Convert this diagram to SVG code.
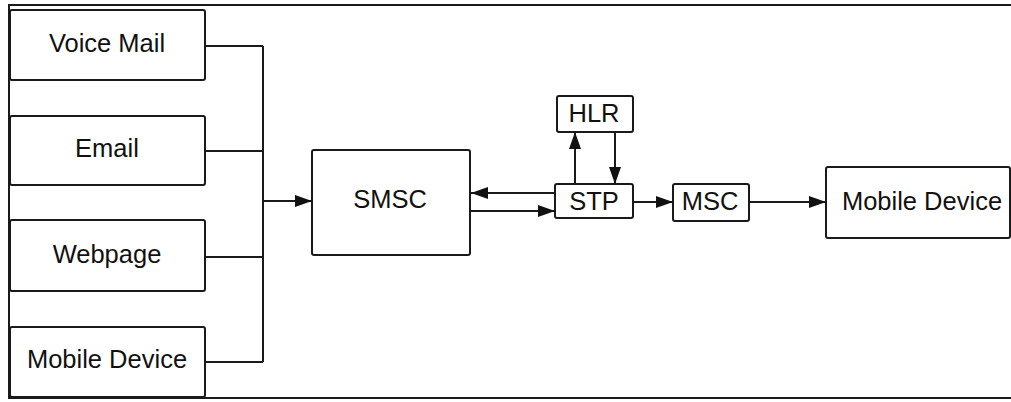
<svg xmlns="http://www.w3.org/2000/svg" width="1011" height="402" viewBox="0 0 1011 402">
<style>
.box{fill:#fff;stroke:#1a1a1a;stroke-width:2}
.lbl{font-family:"Liberation Sans",Arial,sans-serif;font-size:25.5px;fill:#111;text-anchor:middle}
.ln{fill:none;stroke:#1a1a1a;stroke-width:2}
.ar{fill:none;stroke:#1a1a1a;stroke-width:2;marker-end:url(#ah)}
</style>
<defs>
<marker id="ah" markerUnits="userSpaceOnUse" markerWidth="18" markerHeight="14" refX="17" refY="6" orient="auto">
<path d="M0,0 L17,6 L0,12 z" fill="#111"/>
</marker>
</defs>
<rect width="1011" height="402" fill="#fff"/>
<g id="frame">
<path class="ln" d="M1011,5 H9 V398 H1011"/>
</g>
<g id="voicemail"><rect class="box" x="10" y="10" width="195" height="70" rx="2"/><text class="lbl" x="107" y="52">Voice Mail</text></g>
<g id="email"><rect class="box" x="10" y="116" width="195" height="69" rx="2"/><text class="lbl" x="107" y="157">Email</text></g>
<g id="webpage"><rect class="box" x="10" y="220" width="195" height="71" rx="2"/><text class="lbl" x="107" y="263">Webpage</text></g>
<g id="mobile1"><rect class="box" x="10" y="327" width="195" height="70" rx="2"/><text class="lbl" x="107" y="368">Mobile Device</text></g>
<g id="smsc"><rect class="box" x="312" y="150" width="158" height="105" rx="2"/><text class="lbl" x="390" y="208">SMSC</text></g>
<g id="hlr"><rect class="box" x="557" y="96" width="76" height="36" rx="2"/><text class="lbl" x="594" y="122">HLR</text></g>
<g id="stp"><rect class="box" x="555" y="184" width="78" height="34" rx="2"/><text class="lbl" x="594" y="210">STP</text></g>
<g id="msc"><rect class="box" x="673" y="184" width="76" height="37" rx="2"/><text class="lbl" x="710" y="210">MSC</text></g>
<g id="mobile2"><rect class="box" x="826" y="167" width="184" height="71" rx="2"/><text class="lbl" x="922" y="210">Mobile Device</text></g>
<g id="connectors">
<path class="ln" d="M205,46 H263 M205,151 H263 M205,257 H263 M205,362 H263 M263,46 V362"/>
<path class="ar" d="M263,201 H312"/>
<path class="ar" d="M555,193 H471"/>
<path class="ar" d="M470,211 H555"/>
<path class="ar" d="M575,184 V132"/>
<path class="ar" d="M615,132 V184"/>
<path class="ar" d="M633,202 H673"/>
<path class="ar" d="M749,202 H826"/>
</g>
</svg>
